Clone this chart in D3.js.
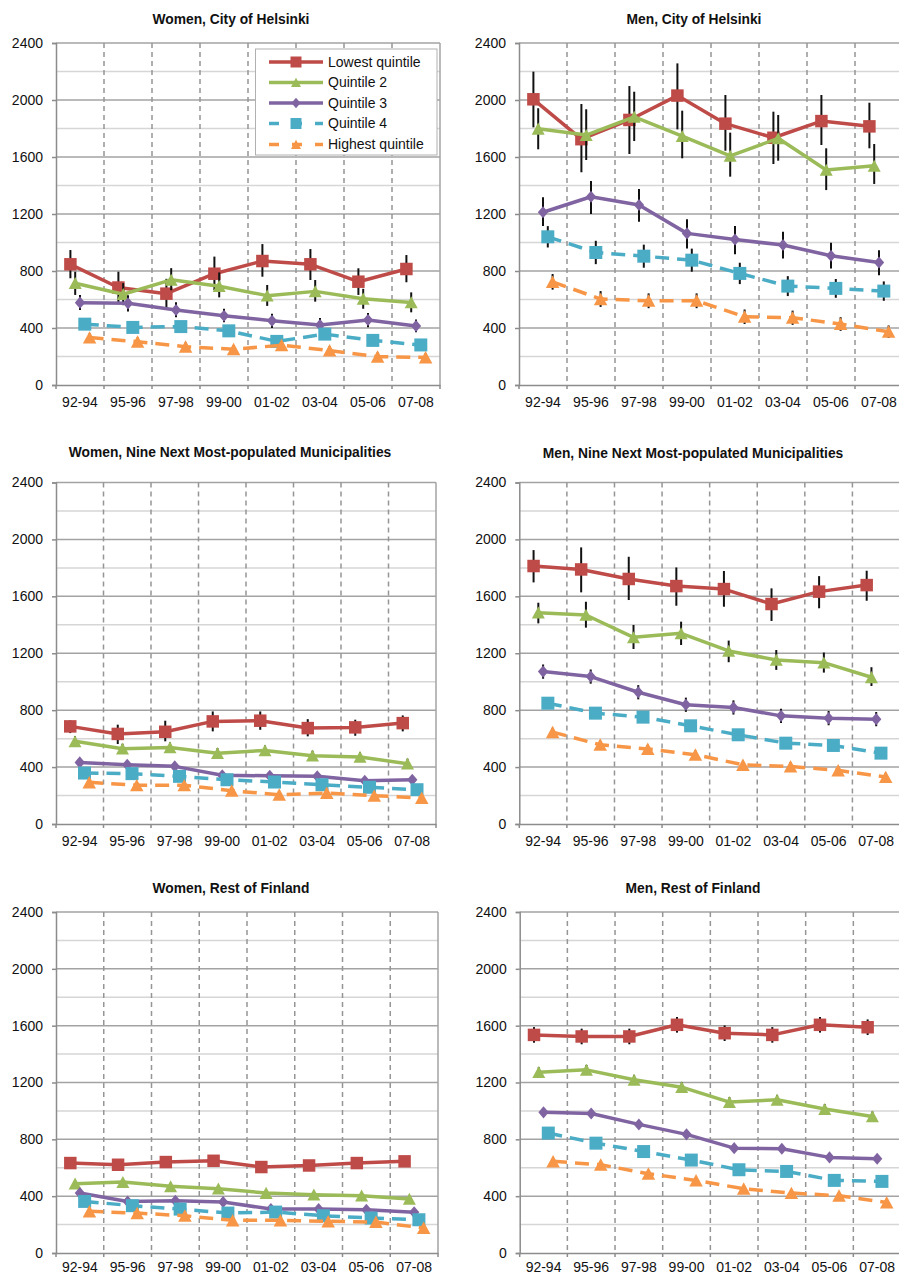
<!DOCTYPE html>
<html>
<head>
<meta charset="utf-8">
<script src="https://cdn.jsdelivr.net/npm/d3@7"></script>
<style>
  body { margin: 0; background: #fff; }
  svg { display: block; }
  text { font-family: "Liberation Sans", Arial, sans-serif; }
</style>
</head>
<body>
<svg id="chart" width="899" height="1276"></svg>
<script>
// Periods on the x axis and the income quintiles drawn in each panel
const periods = ["92-94", "95-96", "97-98", "99-00", "01-02", "03-04", "05-06", "07-08"];
const quintiles = ["Lowest quintile", "Quintile 2", "Quintile 3", "Quintile 4", "Highest quintile"];
const yTickValues = [0, 400, 800, 1200, 1600, 2000, 2400];
const yMinorValues = [200, 600, 1000, 1400, 1800, 2200];

// Rates per quintile (rows: lowest .. highest), one value per period
const womenHelsinki = [
  [847, 684, 641, 781, 870, 847, 725, 814],
  [714, 637, 738, 693, 627, 657, 605, 579],
  [578, 573, 526, 486, 451, 421, 456, 414],
  [427, 404, 410, 380, 306, 357, 313, 281],
  [333, 304, 269, 251, 279, 242, 199, 193]
];
const womenHelsinkiLow = [
  [749, 580, 540, 665, 760, 737, 632, 721],
  [632, 560, 665, 615, 555, 585, 535, 510],
  [526, 515, 475, 440, 400, 375, 405, 370],
  [392, 369, 375, 345, 271, 322, 278, 246],
  [303, 274, 239, 221, 249, 212, 169, 163]
];
const womenHelsinkiHigh = [
  [947, 795, 745, 901, 989, 954, 819, 912],
  [795, 715, 820, 790, 702, 737, 675, 650],
  [632, 630, 580, 535, 500, 470, 505, 460],
  [462, 439, 445, 415, 341, 392, 348, 316],
  [363, 334, 299, 281, 309, 272, 229, 223]
];

const menHelsinki = [
  [2005, 1725, 1860, 2031, 1834, 1735, 1852, 1815],
  [1798, 1754, 1882, 1746, 1608, 1731, 1509, 1538],
  [1212, 1321, 1263, 1064, 1021, 982, 907, 860],
  [1040, 930, 904, 876, 783, 694, 678, 659],
  [724, 603, 591, 591, 479, 472, 428, 374]
];
const menHelsinkiLow = [
  [1808, 1493, 1621, 1794, 1644, 1551, 1684, 1661],
  [1654, 1579, 1712, 1591, 1462, 1574, 1368, 1411],
  [1116, 1200, 1146, 958, 918, 888, 818, 771],
  [965, 848, 823, 795, 708, 624, 612, 591],
  [669, 548, 539, 539, 428, 422, 380, 330]
];
const menHelsinkiHigh = [
  [2199, 1972, 2098, 2257, 2035, 1918, 2035, 1981],
  [1942, 1935, 2058, 1925, 1771, 1895, 1661, 1691],
  [1317, 1432, 1375, 1164, 1115, 1075, 998, 946],
  [1115, 1012, 985, 957, 858, 764, 744, 727],
  [779, 659, 643, 643, 530, 522, 476, 418]
];

const womenNine = [
  [686, 633, 648, 721, 726, 674, 679, 709],
  [581, 529, 538, 498, 517, 480, 471, 424],
  [433, 417, 405, 342, 339, 335, 304, 311],
  [358, 354, 335, 311, 295, 276, 258, 241],
  [293, 272, 272, 234, 206, 218, 199, 183]
];
const womenNineLow = [
  [639, 562, 581, 651, 662, 616, 620, 651],
  [546, 494, 503, 463, 482, 445, 436, 389],
  [408, 392, 380, 317, 314, 310, 279, 286],
  [338, 334, 315, 291, 275, 256, 238, 221],
  [273, 252, 252, 214, 186, 198, 179, 163]
];
const womenNineHigh = [
  [728, 698, 726, 791, 791, 737, 733, 763],
  [616, 564, 573, 533, 552, 515, 506, 459],
  [458, 442, 430, 367, 364, 360, 329, 336],
  [378, 374, 355, 331, 315, 296, 278, 261],
  [313, 292, 292, 254, 226, 238, 219, 203]
];

const menNine = [
  [1813, 1789, 1722, 1672, 1651, 1546, 1633, 1679],
  [1485, 1469, 1312, 1340, 1216, 1153, 1134, 1031],
  [1071, 1036, 926, 838, 819, 760, 744, 737],
  [849, 779, 751, 690, 627, 568, 552, 498],
  [646, 557, 527, 487, 416, 404, 377, 330]
];
const menNineLow = [
  [1698, 1628, 1574, 1534, 1527, 1427, 1516, 1569],
  [1410, 1380, 1230, 1258, 1137, 1083, 1064, 970],
  [1021, 986, 876, 788, 769, 710, 694, 687],
  [814, 744, 716, 655, 592, 533, 517, 463],
  [616, 527, 497, 457, 386, 374, 347, 300]
];
const menNineHigh = [
  [1925, 1944, 1878, 1803, 1778, 1656, 1742, 1780],
  [1555, 1562, 1399, 1422, 1289, 1223, 1205, 1102],
  [1121, 1086, 976, 888, 869, 810, 794, 787],
  [884, 814, 786, 725, 662, 603, 587, 533],
  [676, 587, 557, 517, 446, 434, 407, 360]
];

const womenRest = [
  [633, 621, 640, 649, 605, 616, 633, 645],
  [488, 499, 469, 453, 422, 410, 403, 380],
  [422, 363, 368, 359, 309, 309, 305, 286],
  [363, 333, 309, 281, 288, 262, 246, 234],
  [293, 281, 262, 230, 230, 223, 218, 176]
];
const womenRestLow = [
  [603, 591, 610, 619, 575, 586, 603, 615],
  [468, 479, 449, 433, 402, 390, 383, 360],
  [404, 345, 350, 341, 291, 291, 287, 268],
  [348, 318, 294, 266, 273, 247, 231, 219],
  [281, 269, 250, 218, 218, 211, 206, 164]
];
const womenRestHigh = [
  [663, 651, 670, 679, 635, 646, 663, 675],
  [508, 519, 489, 473, 442, 430, 423, 400],
  [440, 381, 386, 377, 327, 327, 323, 304],
  [378, 348, 324, 296, 303, 277, 261, 249],
  [305, 293, 274, 242, 242, 235, 230, 188]
];

const menRest = [
  [1535, 1524, 1524, 1606, 1547, 1535, 1606, 1589],
  [1273, 1289, 1219, 1167, 1062, 1078, 1013, 961],
  [990, 982, 905, 835, 738, 734, 673, 663],
  [844, 773, 714, 654, 586, 574, 511, 504],
  [645, 621, 558, 511, 452, 422, 403, 356]
];
const menRestLow = [
  [1480, 1469, 1469, 1551, 1492, 1480, 1551, 1534],
  [1238, 1254, 1184, 1132, 1027, 1043, 978, 926],
  [965, 957, 880, 810, 713, 709, 648, 638],
  [819, 748, 689, 629, 561, 549, 486, 479],
  [625, 601, 538, 491, 432, 402, 383, 336]
];
const menRestHigh = [
  [1590, 1579, 1579, 1661, 1602, 1590, 1661, 1644],
  [1308, 1324, 1254, 1202, 1097, 1113, 1048, 996],
  [1015, 1007, 930, 860, 763, 759, 698, 688],
  [869, 798, 739, 679, 611, 599, 536, 529],
  [665, 641, 578, 531, 472, 442, 423, 376]
];

// Series styling
const seriesColors = ["#BE4B48", "#9BBB59", "#8064A2", "#4BACC6", "#F79646"];
const seriesDashed = [false, false, false, true, true];
const seriesMarkers = ["square", "triangle", "diamond", "square", "triangle"];
const markerSizes = [12.5, 13, 11.5, 13, 13.5];

// Panel layout
const panels = [
  { title: "Women, City of Helsinki", values: womenHelsinki, low: womenHelsinkiLow, high: womenHelsinkiHigh,
    x: [56, 440], y: [385, 43], titleX: 231, titleY: 24, labelPad: 12, legend: true },
  { title: "Men, City of Helsinki", values: menHelsinki, low: menHelsinkiLow, high: menHelsinkiHigh,
    x: [519, 903], y: [385, 43], titleX: 694, titleY: 24, labelPad: 12 },
  { title: "Women, Nine Next Most-populated Municipalities", values: womenNine, low: womenNineLow, high: womenNineHigh,
    x: [56, 436], y: [824, 482.5], titleX: 230, titleY: 457, labelPad: 12 },
  { title: "Men, Nine Next Most-populated Municipalities", values: menNine, low: menNineLow, high: menNineHigh,
    x: [519.3, 900], y: [824, 482.5], titleX: 693, titleY: 458, labelPad: 12 },
  { title: "Women, Rest of Finland", values: womenRest, low: womenRestLow, high: womenRestHigh,
    x: [56, 438], y: [1253, 912], titleX: 231, titleY: 893, labelPad: 9 },
  { title: "Men, Rest of Finland", values: menRest, low: menRestLow, high: menRestHigh,
    x: [519.7, 901], y: [1253, 912], titleX: 693, titleY: 893, labelPad: 9 }
];

const svg = d3.select("#chart");
svg.append("rect").attr("width", 899).attr("height", 1276).attr("fill", "#fff");

function markerPath(type, s) {
  const h = s / 2;
  if (type === "square") return `M${-h},${-h}H${h}V${h}H${-h}Z`;
  if (type === "triangle") return `M0,${-h * 0.95}L${h},${h * 0.9}L${-h},${h * 0.9}Z`;
  return `M0,${-h * 1.05}L${h * 0.9},0L0,${h * 1.05}L${-h * 0.9},0Z`;
}

panels.forEach(p => {
  const g = svg.append("g");
  const x = d3.scaleBand().domain(periods).range(p.x).paddingInner(0).paddingOuter(0);
  const y = d3.scaleLinear().domain([0, 2400]).range(p.y);
  const bw = x.bandwidth();
  const left = p.x[0], right = p.x[1], bottom = p.y[0], top = p.y[1];

  // Title
  g.append("text")
    .attr("x", p.titleX).attr("y", p.titleY)
    .attr("text-anchor", "middle")
    .attr("font-weight", "bold").attr("font-size", 13.8)
    .attr("fill", "#111")
    .text(p.title);

  // Minor and major horizontal gridlines
  g.selectAll(".minor").data(yMinorValues).join("line")
    .attr("x1", left).attr("x2", right)
    .attr("y1", d => y(d)).attr("y2", d => y(d))
    .attr("stroke", "#d6d6d6").attr("stroke-width", 1.5);
  g.selectAll(".major").data(yTickValues.filter(v => v > 0)).join("line")
    .attr("x1", left).attr("x2", right)
    .attr("y1", d => y(d)).attr("y2", d => y(d))
    .attr("stroke", "#a3a3a3").attr("stroke-width", 1.5);

  // Dashed vertical lines between periods
  g.selectAll(".vgrid").data(periods.slice(1)).join("line")
    .attr("x1", d => x(d)).attr("x2", d => x(d))
    .attr("y1", top).attr("y2", bottom)
    .attr("stroke", "#959595").attr("stroke-width", 1.5)
    .attr("stroke-dasharray", "5,4");

  // Right border
  g.append("line").attr("x1", right).attr("x2", right).attr("y1", top).attr("y2", bottom)
    .attr("stroke", "#a3a3a3").attr("stroke-width", 1.5);

  // Y axis
  const yAxis = d3.axisLeft(y).tickValues(yTickValues).tickFormat(d3.format("d"))
    .tickSize(4).tickPadding(9);
  const ya = g.append("g").attr("transform", `translate(${left},0)`).call(yAxis);
  ya.select(".domain").attr("stroke", "#8c8c8c").attr("stroke-width", 1.5);
  ya.selectAll(".tick line").attr("stroke", "#8c8c8c").attr("stroke-width", 1.5);
  ya.selectAll(".tick text").attr("font-size", 14).attr("fill", "#111")
    .attr("font-family", "Liberation Sans, Arial, sans-serif");

  // X axis: labels centred in each period, ticks on period boundaries
  const xAxis = d3.axisBottom(x).tickSize(0).tickPadding(p.labelPad);
  const xa = g.append("g").attr("transform", `translate(0,${bottom})`).call(xAxis);
  xa.select(".domain").attr("stroke", "#8c8c8c").attr("stroke-width", 1.5);
  xa.selectAll(".tick text").attr("font-size", 14).attr("fill", "#111")
    .attr("font-family", "Liberation Sans, Arial, sans-serif");
  const bounds = periods.map(d => x(d)).concat([right]);
  g.selectAll(".xtick").data(bounds).join("line")
    .attr("x1", d => d).attr("x2", d => d)
    .attr("y1", bottom).attr("y2", bottom + 4)
    .attr("stroke", "#8c8c8c").attr("stroke-width", 1.5);

  // Legend box (white background covers the grid)
  if (p.legend) {
    g.append("rect").attr("x", 255.5).attr("y", 49).attr("width", 181.5).attr("height", 106)
      .attr("fill", "#fff").attr("stroke", "#b0b0b0").attr("stroke-width", 1);
  }

  // Series
  quintiles.forEach((q, i) => {
    const off = (i - 2) * bw * 0.1;
    const cx = j => x(periods[j]) + bw / 2 + off;
    const vals = p.values[i];
    const sg = g.append("g");

    // Error bars
    sg.selectAll("line.err").data(vals).join("line")
      .attr("x1", (d, j) => cx(j)).attr("x2", (d, j) => cx(j))
      .attr("y1", (d, j) => y(p.low[i][j])).attr("y2", (d, j) => y(p.high[i][j]))
      .attr("stroke", "#111").attr("stroke-width", 2);

    const line = d3.line().x((d, j) => cx(j)).y(d => y(d));
    sg.append("path").datum(vals)
      .attr("d", line)
      .attr("fill", "none")
      .attr("stroke", seriesColors[i])
      .attr("stroke-width", 3.5)
      .attr("stroke-linejoin", "round")
      .attr("stroke-dasharray", seriesDashed[i] ? "14,8" : null);

    sg.selectAll("path.mk").data(vals).join("path")
      .attr("transform", (d, j) => `translate(${cx(j)},${y(d)})`)
      .attr("d", markerPath(seriesMarkers[i], markerSizes[i]))
      .attr("fill", seriesColors[i]);
  });

  // Legend entries
  if (p.legend) {
    const rowY = [62, 82.5, 103, 123.5, 144.5];
    quintiles.forEach((q, i) => {
      const ry = rowY[i];
      g.append("line").attr("x1", 269).attr("x2", 323).attr("y1", ry).attr("y2", ry)
        .attr("stroke", seriesColors[i]).attr("stroke-width", 3.5)
        .attr("stroke-dasharray", seriesDashed[i] ? "10,13" : null);
      g.append("path").attr("transform", `translate(296,${ry})`)
        .attr("d", markerPath(seriesMarkers[i], seriesMarkers[i] === "square" ? 11 : 10))
        .attr("fill", seriesColors[i]);
      g.append("text").attr("x", 328).attr("y", ry).attr("dy", "0.35em")
        .attr("font-size", 14).attr("fill", "#111").text(q);
    });
  }
});
</script>
</body>
</html>
